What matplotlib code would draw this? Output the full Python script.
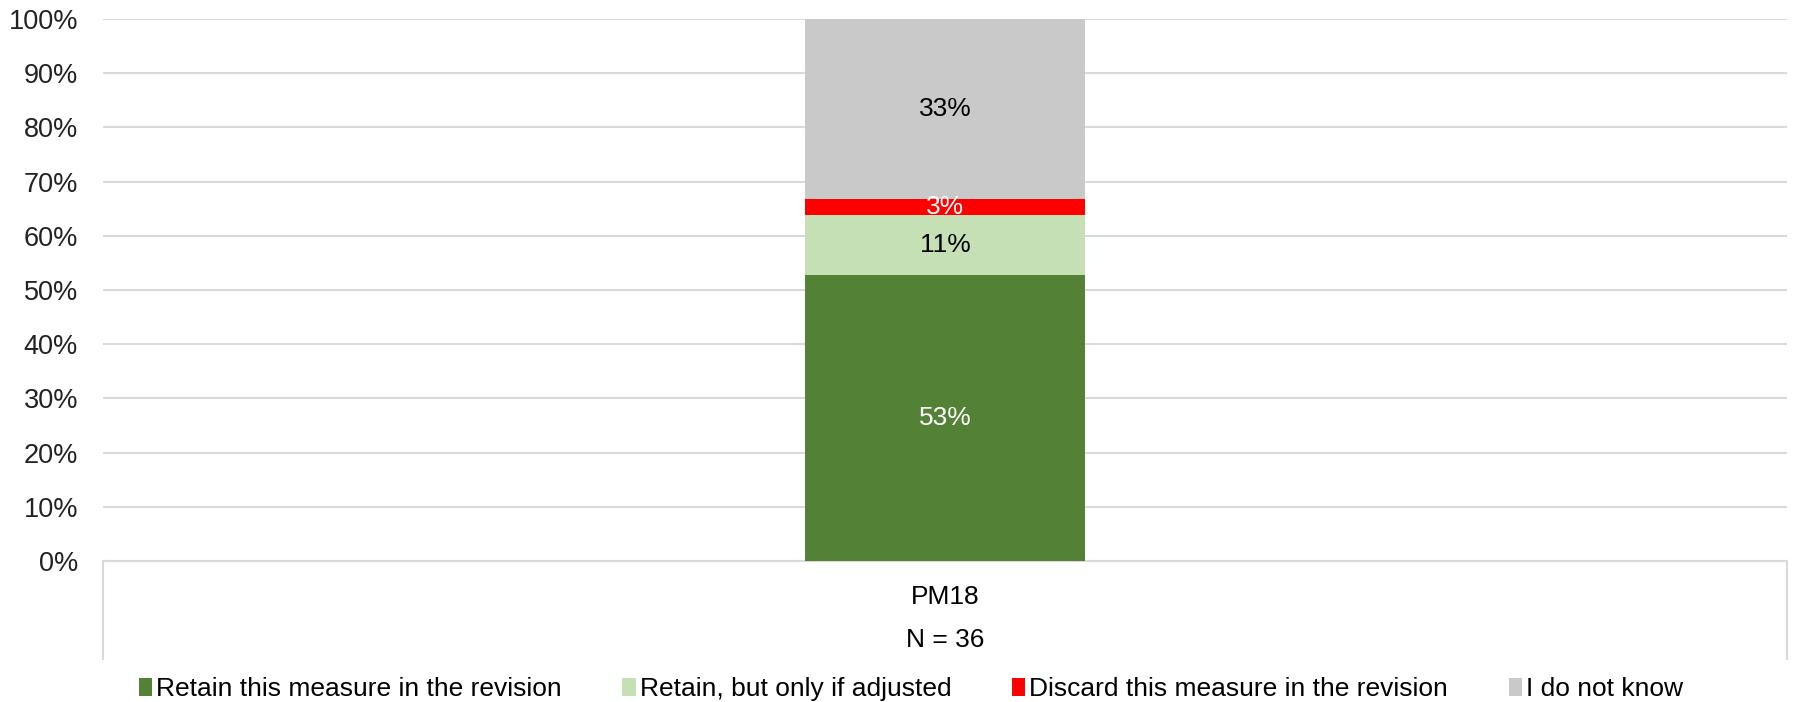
import matplotlib.pyplot as plt
from matplotlib.patches import Patch
from matplotlib.ticker import PercentFormatter

plt.rcParams['font.family'] = ['Liberation Sans', 'DejaVu Sans']

# data
categories = ["PM18"]
n_label = "N = 36"
series = ["Retain this measure in the revision", "Retain, but only if adjusted",
          "Discard this measure in the revision", "I do not know"]
values = [52.8, 11.1, 2.8, 33.3]           # percent of respondents
labels = ["53%", "11%", "3%", "33%"]
colors = ["#538135", "#C5E0B4", "#FF0000", "#C9C9C9"]
label_colors = ["white", "black", "white", "black"]

fig = plt.figure(figsize=(17.93, 7.02), dpi=100)
ax = fig.add_axes([103 / 1793, 1 - 561 / 702, (1787 - 103) / 1793, (561 - 19) / 702])

bottom = 0
for val, lab, col, tcol in zip(values, labels, colors, label_colors):
    ax.bar(0, val, width=0.166, bottom=bottom, color=col, zorder=3)
    ax.text(0, bottom + val / 2, lab, ha='center', va='center', color=tcol,
            fontsize=19, zorder=4)
    bottom += val

ax.set_xlim(-0.5, 0.5)
ax.set_ylim(0, 100)
ax.set_yticks(range(0, 101, 10))
ax.yaxis.set_major_formatter(PercentFormatter(decimals=0))
ax.tick_params(axis='y', length=0, pad=18, labelsize=19.5, labelcolor='#222222')
ax.set_xticks([])
ax.grid(axis='y', color='#D9D9D9', linewidth=1.5, zorder=0)
for s in ax.spines.values():
    s.set_visible(False)

# category box below the axis
tr = ax.get_xaxis_transform()
ax.plot([0, 0], [0, -0.18], transform=ax.transAxes, color='#D9D9D9', lw=1.5, clip_on=False)
ax.plot([1, 1], [0, -0.18], transform=ax.transAxes, color='#D9D9D9', lw=1.5, clip_on=False)
ax.plot([0, 1], [0, 0], transform=ax.transAxes, color='#D9D9D9', lw=1.5, clip_on=False)
ax.text(0, -0.066, categories[0], transform=tr, ha='center', va='center', fontsize=19)
ax.text(0, -0.145, n_label, transform=tr, ha='center', va='center', fontsize=19)

handles = [Patch(facecolor=c, edgecolor='none') for c in colors]
fig.legend(handles, series, loc='center', bbox_to_anchor=(0.508, 1 - 689 / 702), ncol=4,
           frameon=False, fontsize=19, handlelength=0.5, handleheight=0.7,
           handletextpad=0.15, columnspacing=2.3)

fig.savefig("out.png", dpi=100)
